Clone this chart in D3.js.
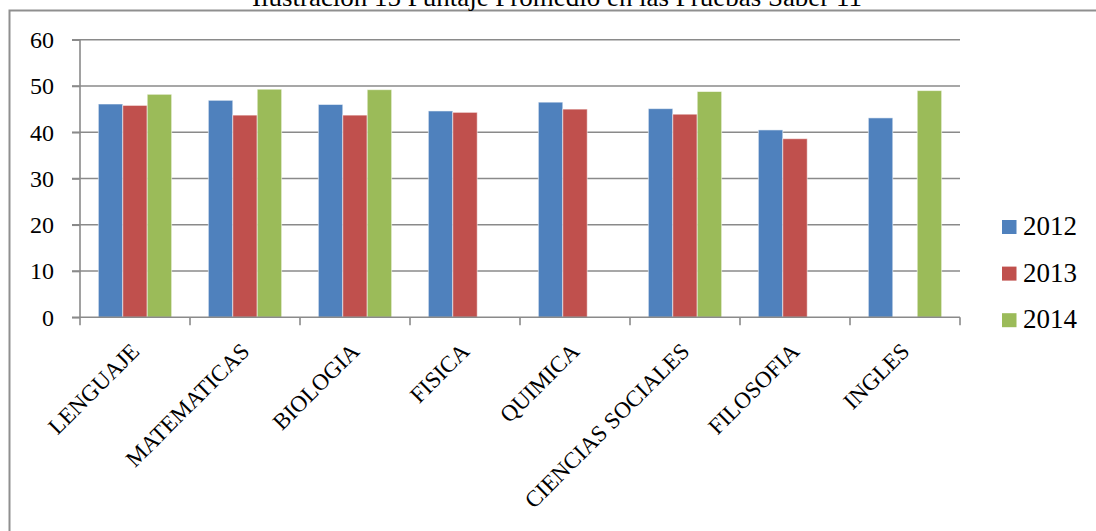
<!DOCTYPE html>
<html>
<head>
<meta charset="utf-8">
<script src="https://cdn.jsdelivr.net/npm/d3@7"></script>
<style>
  html, body { margin: 0; padding: 0; background: #fff; overflow: hidden; }
  svg { display: block; }
  text { font-family: "Liberation Serif", "Times New Roman", serif; fill: #000; }
</style>
</head>
<body>
<svg id="chart" width="1096" height="531"></svg>
<script>
const title = "Ilustración 15 Puntaje Promedio en las Pruebas Saber 11";
const categories = ["LENGUAJE", "MATEMATICAS", "BIOLOGIA", "FISICA", "QUIMICA", "CIENCIAS SOCIALES", "FILOSOFIA", "INGLES"];
const seriesNames = ["2012", "2013", "2014"];
const values2012 = [46.1, 46.9, 46.0, 44.6, 46.5, 45.1, 40.5, 43.1];
const values2013 = [45.8, 43.7, 43.7, 44.3, 45.0, 43.9, 38.6, null];
const values2014 = [48.2, 49.3, 49.2, null, null, 48.8, null, 49.0];
const yTicks = [0, 10, 20, 30, 40, 50, 60];
const colors = ["#4F81BD", "#C0504D", "#9BBB59"];

const seriesValues = [values2012, values2013, values2014];
const svg = d3.select("#chart");

// outer chart border (extends past the window on right/bottom)
svg.append("rect")
  .attr("x", 9.5).attr("y", 10.5)
  .attr("width", 1200).attr("height", 700)
  .attr("fill", "none").attr("stroke", "#8f8f8f").attr("stroke-width", 2);

// title (clipped at top, as in reference)
svg.append("text")
  .attr("x", 252).attr("y", 6)
  .attr("font-size", 26)
  .attr("textLength", 610)
  .attr("lengthAdjust", "spacingAndGlyphs")
  .text(title);

const x0 = d3.scaleBand().domain(categories).range([80, 960]).padding(0);
const y = d3.scaleLinear().domain([0, 60]).range([317.3, 39.7]);
const bw = x0.bandwidth() / 4.5;
const x1 = d3.scaleBand().domain(seriesNames).range([bw * 0.75, bw * 3.75]).padding(0);

// gridlines
svg.append("g").selectAll("line").data(yTicks.filter(d => d > 0)).join("line")
  .attr("x1", 72).attr("x2", 960)
  .attr("y1", d => y(d)).attr("y2", d => y(d))
  .attr("stroke", "#8a8a8a").attr("stroke-width", 1.6);

// bars
const data = [];
categories.forEach((c, i) => {
  seriesNames.forEach((s, j) => {
    const v = seriesValues[j][i];
    if (v != null) data.push({ c, s, v, color: colors[j] });
  });
});
svg.append("g").selectAll("rect").data(data).join("rect")
  .attr("x", d => x0(d.c) + x1(d.s))
  .attr("y", d => y(d.v))
  .attr("width", x1.bandwidth())
  .attr("height", d => y(0) - y(d.v))
  .attr("fill", d => d.color)
  .attr("stroke", "rgba(255,255,255,0.55)")
  .attr("stroke-width", 1);

// y axis
const yAxis = d3.axisLeft(y).tickValues(yTicks).tickSize(8).tickPadding(18).tickFormat(d3.format("d"));
const gy = svg.append("g").attr("transform", "translate(80,0)").call(yAxis);
gy.select(".domain").attr("stroke", "#8a8a8a").attr("stroke-width", 1.6).attr("d", `M-8,${y(60)}H0V${y(0)}`);
gy.selectAll(".tick line").attr("stroke", "#8a8a8a").attr("stroke-width", 1.6);
gy.selectAll(".tick text").attr("font-size", 24).attr("font-family", "Liberation Serif").attr("fill", "#000").attr("dy", "0.33em");

// x axis
const tickPositions = d3.range(categories.length + 1).map(i => 80 + i * x0.bandwidth());
const gx = svg.append("g");
gx.append("line").attr("x1", 72).attr("x2", 960).attr("y1", y(0)).attr("y2", y(0))
  .attr("stroke", "#8a8a8a").attr("stroke-width", 1.6);
gx.selectAll("line.t").data(tickPositions).join("line").attr("class", "t")
  .attr("x1", d => d).attr("x2", d => d)
  .attr("y1", y(0)).attr("y2", y(0) + 8)
  .attr("stroke", "#8a8a8a").attr("stroke-width", 1.6);
gx.selectAll("text").data(categories).join("text")
  .attr("transform", d => `translate(${x0(d) + x0.bandwidth() / 2},347) rotate(-45)`)
  .attr("text-anchor", "end")
  .attr("dy", "0.35em")
  .attr("font-size", 23)
  .text(d => d);

// legend
const lg = svg.append("g").selectAll("g").data(seriesNames).join("g")
  .attr("transform", (d, i) => `translate(1002,${220 + i * 46.6})`);
lg.append("rect").attr("width", 14.5).attr("height", 14)
  .attr("fill", (d, i) => colors[i]);
lg.append("text").attr("x", 21).attr("y", 15).attr("font-size", 27).text(d => d);
</script>
</body>
</html>
